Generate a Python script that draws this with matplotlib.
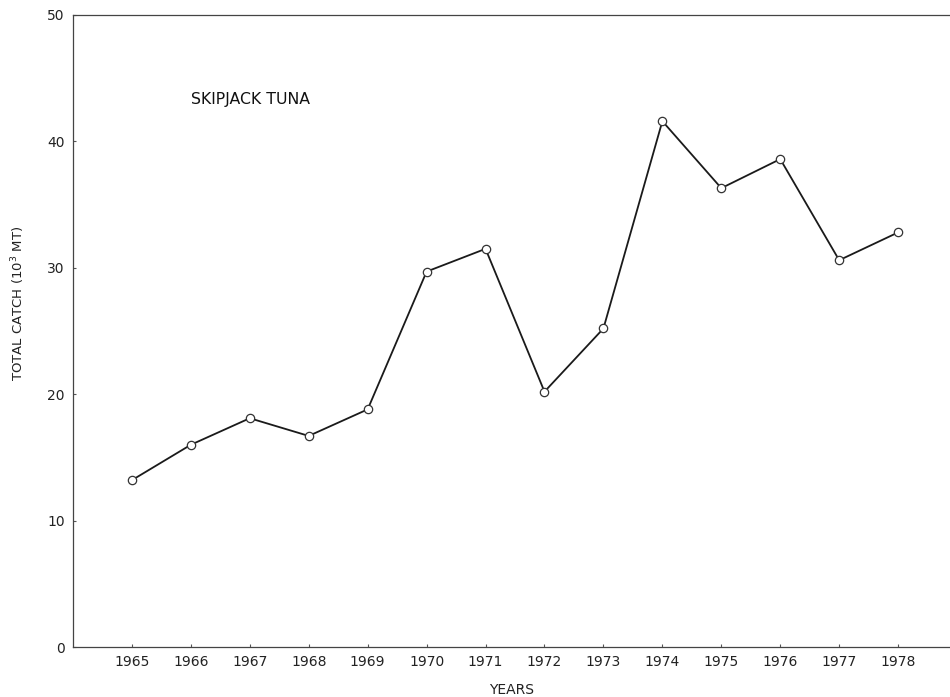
import numpy as np
import matplotlib
matplotlib.use('Agg')
import matplotlib.pyplot as plt

# Skipjack tuna total catch, thousand metric tons
years = [1965, 1966, 1967, 1968, 1969, 1970, 1971,
         1972, 1973, 1974, 1975, 1976, 1977, 1978]
catch = [13.2, 16.0, 18.1, 16.7, 18.8, 29.7, 31.5,
         20.2, 25.2, 41.6, 36.3, 38.6, 30.6, 32.8]
y_ticks = [0, 10, 20, 30, 40, 50]

plt.rcParams['font.family'] = 'DejaVu Sans'

fig = plt.figure(figsize=(9.5, 6.97), dpi=100)
ax = fig.add_axes([0.0768, 0.0717, 0.9232, 0.9068])

ax.plot(years, catch, color='#1a1a1a', linewidth=1.3,
        marker='o', markersize=6, markerfacecolor='white',
        markeredgecolor='#333333', markeredgewidth=0.9)

ax.set_xlim(1964, 1978.88)
ax.set_ylim(0, 50)
ax.set_xticks(years)
ax.set_xticklabels([str(y) for y in years], fontsize=10, color='#222222')
ax.set_yticks(y_ticks)
ax.set_yticklabels([str(v) for v in y_ticks], fontsize=10, color='#222222')
ax.tick_params(axis='x', length=2, direction='in', color='#555555', pad=6)
ax.tick_params(axis='y', length=2, direction='in', color='#555555', pad=6)

ax.spines['right'].set_visible(False)
for s in ['left', 'top', 'bottom']:
    ax.spines[s].set_color('#444444')
    ax.spines[s].set_linewidth(0.9)

ax.set_xlabel('YEARS', fontsize=10, color='#222222')
ax.xaxis.label.set_va('center')
ax.xaxis.set_label_coords(0.5, -0.068)
ax.set_ylabel('TOTAL CATCH ($\\mathregular{10^3}$ MT)', fontsize=9.5,
              color='#222222')
ax.yaxis.label.set_va('center')
ax.yaxis.set_label_coords(-0.063, 0.544)

ax.text(1966.0, 43.3, 'SKIPJACK TUNA', fontsize=11.3, color='#111111',
        va='center', ha='left')

fig.savefig('out.png', dpi=100)
